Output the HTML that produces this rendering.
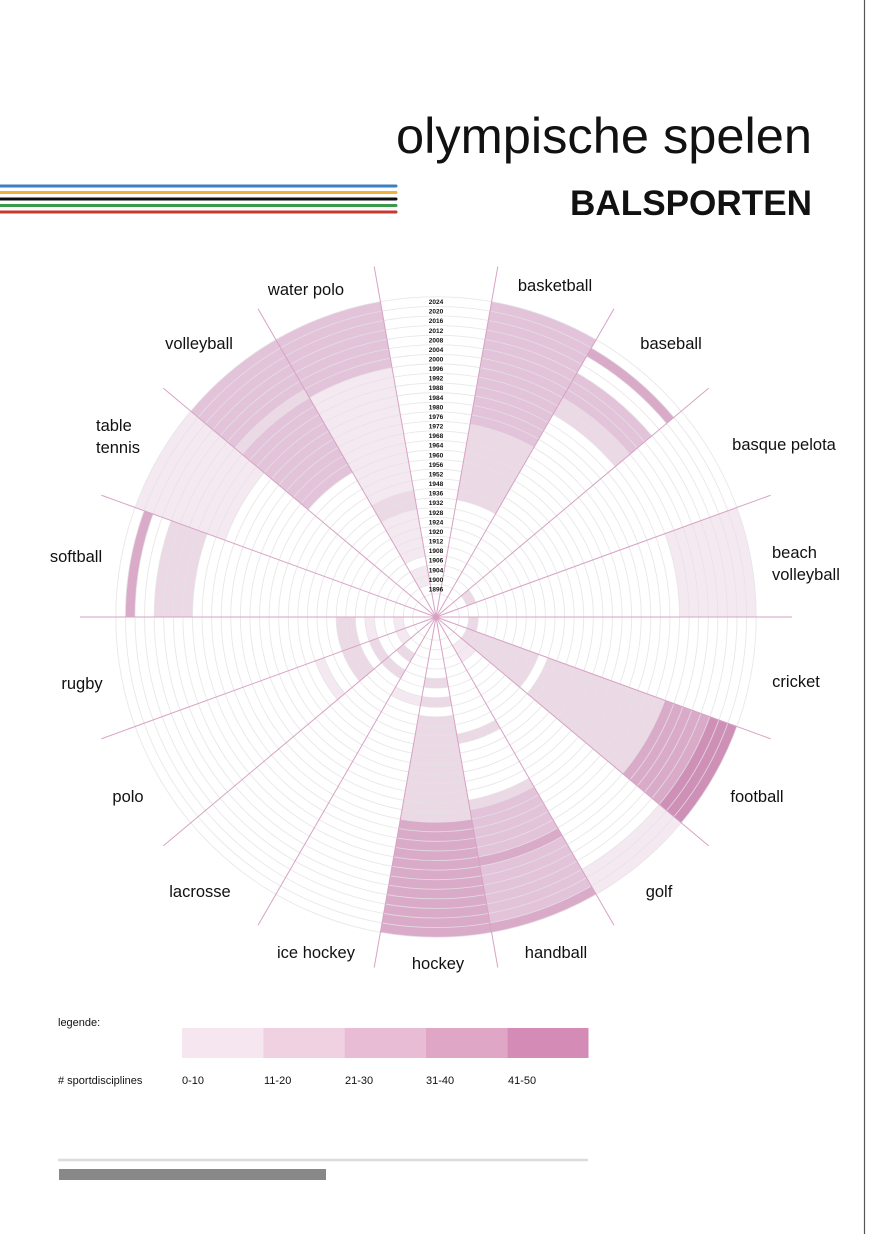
<!DOCTYPE html>
<html><head><meta charset="utf-8">
<style>
html,body{margin:0;padding:0;background:#fff;}
body{width:878px;height:1234px;overflow:hidden;position:relative;font-family:"Liberation Sans",sans-serif;}
svg{position:absolute;left:0;top:0;}
</style></head>
<body>
<svg id="chart" width="878" height="1234" viewBox="0 0 878 1234" xmlns="http://www.w3.org/2000/svg">
  <line x1="864.5" y1="0" x2="864.5" y2="1234" stroke="#555" stroke-width="1.2"/>
  <text x="812" y="153" text-anchor="end" font-family="Liberation Sans, sans-serif" font-size="50" font-weight="300" fill="#111" textLength="416" lengthAdjust="spacingAndGlyphs">olympische spelen</text>
  <text x="812" y="215" text-anchor="end" font-family="Liberation Sans, sans-serif" font-size="35" font-weight="bold" fill="#111" textLength="242" lengthAdjust="spacingAndGlyphs">BALSPORTEN</text>
  <g stroke-width="3" stroke-linecap="round">
    <line x1="0" y1="186" x2="396" y2="186" stroke="#3b80c4"/>
    <line x1="0" y1="192.5" x2="396" y2="192.5" stroke="#f0b33a"/>
    <line x1="0" y1="199" x2="396" y2="199" stroke="#111"/>
    <line x1="0" y1="205.5" x2="396" y2="205.5" stroke="#3a9a4a"/>
    <line x1="0" y1="212" x2="396" y2="212" stroke="#c63a2e"/>
  </g>
  <g id="cells"></g>
  <g id="grid"></g>
  <g id="dividers"></g>
  <g id="years"></g>
  <g id="sportLabels"></g>

  <g font-family="Liberation Sans, sans-serif" font-size="11" fill="#111">
    <text x="58" y="1026">legende:</text>
    <rect x="182" y="1028" width="81.3" height="30" fill="#f5e6ef"/>
    <rect x="263.3" y="1028" width="81.3" height="30" fill="#f0d1e1"/>
    <rect x="344.6" y="1028" width="81.3" height="30" fill="#e8bcd4"/>
    <rect x="425.9" y="1028" width="81.3" height="30" fill="#dfa6c6"/>
    <rect x="507.2" y="1028" width="81.3" height="30" fill="#d48bb5"/>
    <text x="58" y="1084">#  sportdisciplines</text>
    <text x="182" y="1084">0-10</text>
    <text x="264" y="1084">11-20</text>
    <text x="345" y="1084">21-30</text>
    <text x="426" y="1084">31-40</text>
    <text x="508" y="1084">41-50</text>
  </g>
  <line x1="58" y1="1160" x2="588" y2="1160" stroke="#dcdcdc" stroke-width="2.5"/>
  <rect x="59" y="1169" width="267" height="11" fill="#888"/>
</svg>
<script>
const years = [1896,1900,1904,1906,1908,1912,1920,1924,1928,1932,1936,1948,1952,1956,1960,1964,1968,1972,1976,1980,1984,1988,1992,1996,2000,2004,2008,2012,2016,2020,2024];
const sports = ["basketball","baseball","basque pelota","beach volleyball","cricket","football","golf","handball","hockey","ice hockey","lacrosse","polo","rugby","softball","table tennis","volleyball","water polo"];
const basketball   = [0,0,0,0,0,0,0,0,0,0,2,2,2,2,2,2,2,2,3,3,3,3,3,3,3,3,3,3,3,3,3];
const baseball     = [0,0,0,0,0,0,0,0,0,0,0,0,0,0,0,0,0,0,0,0,0,0,2,2,3,3,3,0,0,4,0];
const basquePelota = [0,2,0,0,0,0,0,0,0,0,0,0,0,0,0,0,0,0,0,0,0,0,0,0,0,0,0,0,0,0,0];
const beachVolley  = [0,0,0,0,0,0,0,0,0,0,0,0,0,0,0,0,0,0,0,0,0,0,0,1,1,1,1,1,1,1,1];
const cricket      = [0,2,0,0,0,0,0,0,0,0,0,0,0,0,0,0,0,0,0,0,0,0,0,0,0,0,0,0,0,0,0];
const football     = [0,2,2,2,2,2,2,2,2,0,2,2,2,2,2,2,2,2,2,2,2,2,2,4,4,4,4,4,5,5,5];
const golf         = [0,1,1,0,0,0,0,0,0,0,0,0,0,0,0,0,0,0,0,0,0,0,0,0,0,0,0,0,1,1,1];
const handball     = [0,0,0,0,0,0,0,0,0,0,2,0,0,0,0,0,0,2,3,3,3,3,3,4,3,3,3,3,3,3,4];
const hockey       = [0,0,0,0,2,0,2,0,2,2,2,2,2,2,2,2,2,2,2,4,4,4,4,4,4,4,4,4,4,4,4];
const iceHockey    = [0,0,0,0,0,0,1,0,0,0,0,0,0,0,0,0,0,0,0,0,0,0,0,0,0,0,0,0,0,0,0];
const lacrosse     = [0,0,2,0,2,0,0,0,0,0,0,0,0,0,0,0,0,0,0,0,0,0,0,0,0,0,0,0,0,0,0];
const polo         = [0,1,0,0,2,0,2,2,0,0,1,0,0,0,0,0,0,0,0,0,0,0,0,0,0,0,0,0,0,0,0];
const rugby        = [0,1,0,0,1,0,2,2,0,0,0,0,0,0,0,0,0,0,0,0,0,0,0,0,0,0,0,0,0,0,0];
const softball     = [0,0,0,0,0,0,0,0,0,0,0,0,0,0,0,0,0,0,0,0,0,0,0,2,2,2,2,0,0,4,0];
const tableTennis  = [0,0,0,0,0,0,0,0,0,0,0,0,0,0,0,0,0,0,0,0,0,1,1,1,1,1,1,1,1,1,1];
const volleyball   = [0,0,0,0,0,0,0,0,0,0,0,0,0,0,0,3,3,3,3,3,3,3,3,3,2,3,3,3,3,3,3];
const waterPolo    = [0,1,1,0,1,1,1,1,1,2,2,1,1,1,1,1,1,1,1,1,1,1,1,1,3,3,3,3,3,3,3];
const series = [basketball,baseball,basquePelota,beachVolley,cricket,football,golf,handball,hockey,iceHockey,lacrosse,polo,rugby,softball,tableTennis,volleyball,waterPolo];
const levelColors = ["none","#f4e9f1","#ecd9e6","#e3c3da","#daabc9","#cf90b8"];

const NS = "http://www.w3.org/2000/svg";
const cx = 436, cy = 617, r0 = 23.2, ringW = 9.58, lineLen = 356;
const sectorStart = 10, sectorSpan = 20;
function rIn(k){ return r0 + ringW*k; }
function rOut(k){ return r0 + ringW*(k+1); }
function sectorAngle(i){ return sectorStart + sectorSpan*i; }
function pt(r,a){ const t=a*Math.PI/180; return [cx + r*Math.sin(t), cy - r*Math.cos(t)]; }
function arcPath(r1,r2,a1,a2){
  const p1=pt(r2,a1),p2=pt(r2,a2),p3=pt(r1,a2),p4=pt(r1,a1);
  return `M${p1[0]},${p1[1]} A${r2},${r2} 0 0 1 ${p2[0]},${p2[1]} L${p3[0]},${p3[1]} A${r1},${r1} 0 0 0 ${p4[0]},${p4[1]} Z`;
}
function mk(tag, parent){ const e=document.createElementNS(NS,tag); parent.appendChild(e); return e; }

const cellsG = document.getElementById('cells');
series.forEach((vals, si) => {
  const a1 = sectorAngle(si), a2 = a1 + sectorSpan;
  vals.forEach((lv, k) => {
    if (!lv) return;
    const p = mk('path', cellsG);
    
    
    p.setAttribute('d', arcPath(rIn(k), rOut(k), a1, a2));
    p.setAttribute('fill', levelColors[lv]);
  });
});

const gridG = document.getElementById('grid');
for (let k=0; k<=years.length; k++){
  const c = mk('circle', gridG);
  
  
  c.setAttribute('cx', cx); c.setAttribute('cy', cy); c.setAttribute('r', rIn(k));
  c.setAttribute('fill', 'none'); c.setAttribute('stroke', '#e2e2e2'); c.setAttribute('stroke-opacity', '0.8'); c.setAttribute('stroke-width', '0.9');
}

const divG = document.getElementById('dividers');
for (let i=0; i<=sports.length; i++){
  const p = pt(lineLen, sectorAngle(i));
  const l = mk('line', divG);
  
  
  l.setAttribute('x1', cx); l.setAttribute('y1', cy); l.setAttribute('x2', p[0]); l.setAttribute('y2', p[1]);
  l.setAttribute('stroke', '#d7a2c4'); l.setAttribute('stroke-width', '1');
}

const yG = document.getElementById('years');
years.forEach((y,k) => {
  const t = mk('text', yG);
  
  
  t.setAttribute('x', cx); t.setAttribute('y', cy - (rIn(k)+rOut(k))/2 + 2.4);
  t.setAttribute('text-anchor', 'middle'); t.setAttribute('font-size', '6.5'); t.setAttribute('font-weight', 'bold');
  t.setAttribute('font-family', 'Liberation Sans, sans-serif'); t.setAttribute('fill', '#111');
  t.textContent = y;
});

const labelPos = [
  [555,291,"middle",["basketball"]],[671,349,"middle",["baseball"]],[784,450,"middle",["basque pelota"]],
  [772,558,"start",["beach","volleyball"]],[796,687,"middle",["cricket"]],[757,802,"middle",["football"]],
  [659,897,"middle",["golf"]],[556,958,"middle",["handball"]],[438,969,"middle",["hockey"]],
  [316,958,"middle",["ice hockey"]],[200,897,"middle",["lacrosse"]],[128,802,"middle",["polo"]],
  [82,689,"middle",["rugby"]],[76,562,"middle",["softball"]],[96,431,"start",["table","tennis"]],
  [199,349,"middle",["volleyball"]],[306,295,"middle",["water polo"]]
];
const slG = document.getElementById('sportLabels');
labelPos.forEach((L,i) => {
  L[3].forEach((line,j) => {
    const t = mk('text', slG);
    
    
    t.setAttribute('x', L[0]); t.setAttribute('y', L[1] + j*22);
    t.setAttribute('text-anchor', L[2]); t.setAttribute('font-size', '16.5');
    t.setAttribute('font-family', 'Liberation Sans, sans-serif'); t.setAttribute('fill', '#111');
    t.textContent = line;
  });
});
</script>
</body></html>
